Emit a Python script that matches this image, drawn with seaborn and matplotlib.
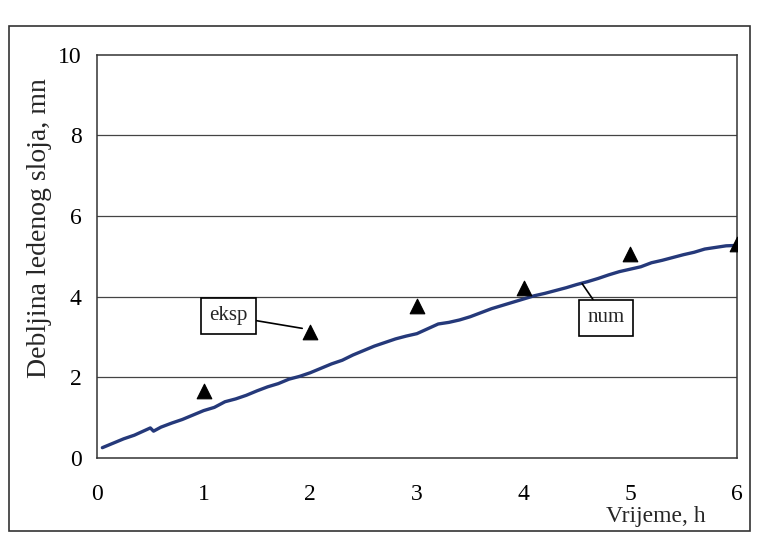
import matplotlib.pyplot as plt
import pandas as pd
import seaborn as sns
from matplotlib.patches import Rectangle

# numerical solution
num_t = [0.05, 0.15, 0.25, 0.35, 0.45, 0.50, 0.53, 0.60, 0.70, 0.80, 0.90,
         1.00, 1.10, 1.20, 1.30, 1.40, 1.50, 1.60, 1.70, 1.80, 1.90, 2.00,
         2.10, 2.20, 2.30, 2.40, 2.50, 2.60, 2.70, 2.80, 2.90, 3.00, 3.10,
         3.20, 3.30, 3.40, 3.50, 3.60, 3.70, 3.80, 3.90, 4.00, 4.10, 4.20,
         4.30, 4.40, 4.50, 4.60, 4.70, 4.80, 4.90, 5.00, 5.10, 5.20, 5.30,
         5.40, 5.50, 5.60, 5.70, 5.80, 5.90, 6.00]
num_h = [0.25, 0.36, 0.47, 0.56, 0.68, 0.74, 0.66, 0.76, 0.86, 0.95, 1.06,
         1.17, 1.25, 1.39, 1.46, 1.55, 1.66, 1.76, 1.84, 1.95, 2.02, 2.11,
         2.22, 2.33, 2.42, 2.55, 2.66, 2.77, 2.86, 2.95, 3.02, 3.08, 3.20,
         3.32, 3.36, 3.42, 3.50, 3.60, 3.70, 3.78, 3.86, 3.94, 4.02, 4.08,
         4.15, 4.22, 4.30, 4.37, 4.45, 4.54, 4.62, 4.68, 4.74, 4.84, 4.90,
         4.97, 5.04, 5.10, 5.18, 5.22, 5.26, 5.27]

# experimental points
eksp_t = [1, 2, 3, 4, 5, 6]
eksp_h = [1.65, 3.12, 3.77, 4.22, 5.06, 5.30]

sns.set_style("white")
plt.rcParams["font.family"] = ["Liberation Serif", "DejaVu Serif"]

num_df = pd.DataFrame({"t": num_t, "h": num_h})
eksp_df = pd.DataFrame({"t": eksp_t, "h": eksp_h})

fig = plt.figure(figsize=(7.58, 5.43), dpi=100)
ax = fig.add_axes([0.128, 0.157, 0.844, 0.742])

# outer chart frame
fig.patches.append(Rectangle((0.012, 0.022), 0.978, 0.93, transform=fig.transFigure,
                             fill=False, edgecolor="#333333", linewidth=1.2))

for yv in [2, 4, 6, 8]:
    ax.axhline(yv, color="#444444", linewidth=0.9, zorder=1)

sns.lineplot(data=num_df, x="t", y="h", ax=ax, color="#25397a", linewidth=2.4,
             zorder=3)
sns.scatterplot(data=eksp_df, x="t", y="h", ax=ax, marker="^", s=110,
                color="black", edgecolor="black", zorder=4)

ax.set_xlim(0, 6)
ax.set_ylim(0, 10)
ax.set_xticks(range(0, 7))
ax.set_yticks(range(0, 11, 2))
ax.tick_params(axis="both", direction="out", length=5, width=1,
               labelsize=17, colors="black", pad=6)
ax.tick_params(axis="x", pad=14)
for sp in ax.spines.values():
    sp.set_color("#333333")
    sp.set_linewidth(1.1)

ax.set_xlabel("")
ax.set_ylabel("Debljina ledenog sloja, mn", fontsize=20)
ax.yaxis.set_label_coords(-0.07, 0.57)
fig.text(0.80, 0.048, "Vrijeme, h", fontsize=17, ha="left", va="center")

box = dict(boxstyle="square,pad=0.4", facecolor="white", edgecolor="black",
           linewidth=1.2)
ax.annotate("eksp", xy=(1.95, 3.2), xytext=(1.23, 3.52), fontsize=15,
            ha="center", va="center", bbox=box,
            arrowprops=dict(arrowstyle="-", color="black", lw=1.2,
                            shrinkA=0, shrinkB=2))
ax.annotate("num", xy=(4.55, 4.32), xytext=(4.77, 3.47), fontsize=15,
            ha="center", va="center", bbox=box,
            arrowprops=dict(arrowstyle="-", color="black", lw=1.2,
                            shrinkA=0, shrinkB=0))

fig.savefig("out.png", dpi=100)
